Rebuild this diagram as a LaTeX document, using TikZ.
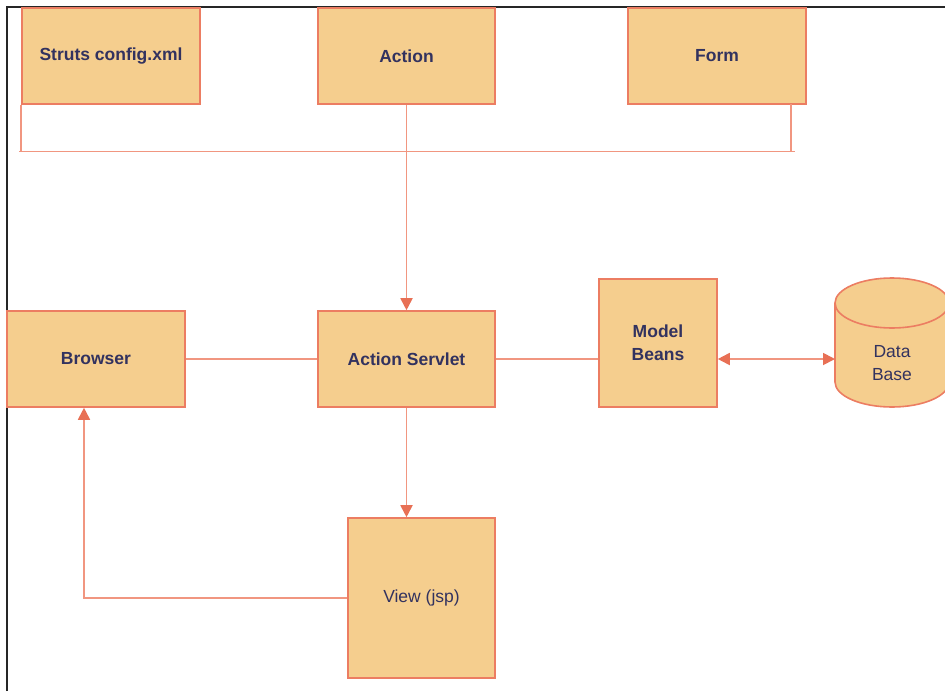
\documentclass[tikz,border=0pt]{standalone}
\usepackage{fontspec}
\setmainfont{Liberation Sans}
\usetikzlibrary{arrows.meta}
\definecolor{boxfill}{RGB}{245,206,142}
\definecolor{boxdraw}{RGB}{236,125,98}
\definecolor{linecol}{RGB}{241,150,128}
\definecolor{tipcol}{RGB}{232,112,85}
\definecolor{txtcol}{RGB}{50,50,95}
\tikzset{
  box/.style={draw=boxdraw, fill=boxfill, line width=1.6pt, inner sep=0pt,
    align=center, text=txtcol, font=\fontsize{17.5}{23}\selectfont},
  boldbox/.style={box, font=\fontsize{17.5}{23}\selectfont\bfseries},
  conn/.style={draw=linecol, line width=1.8pt},
  arr/.style={conn, -{Triangle[length=12pt,width=12pt,color=tipcol]}},
  dblarr/.style={conn, {Triangle[length=12pt,width=12pt,color=tipcol]}-{Triangle[length=12pt,width=12pt,color=tipcol]}},
  lbl/.style={text=txtcol, align=center, inner sep=0pt, font=\fontsize{17.5}{23}\selectfont}
}
\begin{document}
\begin{tikzpicture}[x=1pt,y=1pt]
\useasboundingbox (0,0) rectangle (945,-691);
\fill[white] (0,0) rectangle (945,-691);
% frame
\draw[black!85, line width=1.8pt] (7,-691) -- (7,-7) -- (945,-7);

% top row
\node[boldbox, minimum width=178, minimum height=96] (struts) at (111,-56) {Struts config.xml};
\node[boldbox, minimum width=177, minimum height=96] (action) at (406.5,-56) {Action};
\node[boldbox, minimum width=178, minimum height=96] (form) at (717,-56) {Form};

% middle row
\node[boldbox, minimum width=178, minimum height=96] (browser) at (96,-359) {Browser};
\node[boldbox, minimum width=177, minimum height=96] (servlet) at (406.5,-359) {Action Servlet};
\node[boldbox, minimum width=118, minimum height=128] (model) at (658,-343) {Model\\Beans};

% database cylinder
\filldraw[draw=boxdraw, fill=boxfill, line width=1.6pt]
  (835,-303) -- (835,-382) arc[start angle=180, end angle=360, x radius=57, y radius=25]
  -- (949,-303) arc[start angle=0, end angle=180, x radius=57, y radius=25] -- cycle;
\draw[draw=boxdraw, line width=1.6pt]
  (835,-303) arc[start angle=180, end angle=360, x radius=57, y radius=25];
\node[lbl] (db) at (892,-363) {Data\\Base};
\coordinate (dbw) at (835,-359);

% view
\node[box, minimum width=147, minimum height=160] (view) at (421.5,-598) {View (jsp)};

% bracket
\coordinate (barL) at (19,-151.5);
\coordinate (barR) at (795,-151.5);
\coordinate (formleg) at (791,-104);
\draw[conn] (struts.south west) -- (struts.south west |- barL);
\draw[conn] (formleg) -- (formleg |- barR);
\draw[conn] (barL) -- (barR);

% connectors
\draw[arr] (action.south) -- (servlet.north);
\draw[conn] (browser.east) -- (servlet.west);
\draw[conn] (servlet.east) -- (servlet.east -| model.west);
\draw[dblarr] (servlet.east -| model.east) -- (dbw);
\draw[arr] (servlet.south) -- (servlet.south |- view.north);
\draw[arr] (view.west) -| ([xshift=-12pt]browser.south);
\end{tikzpicture}
\end{document}
